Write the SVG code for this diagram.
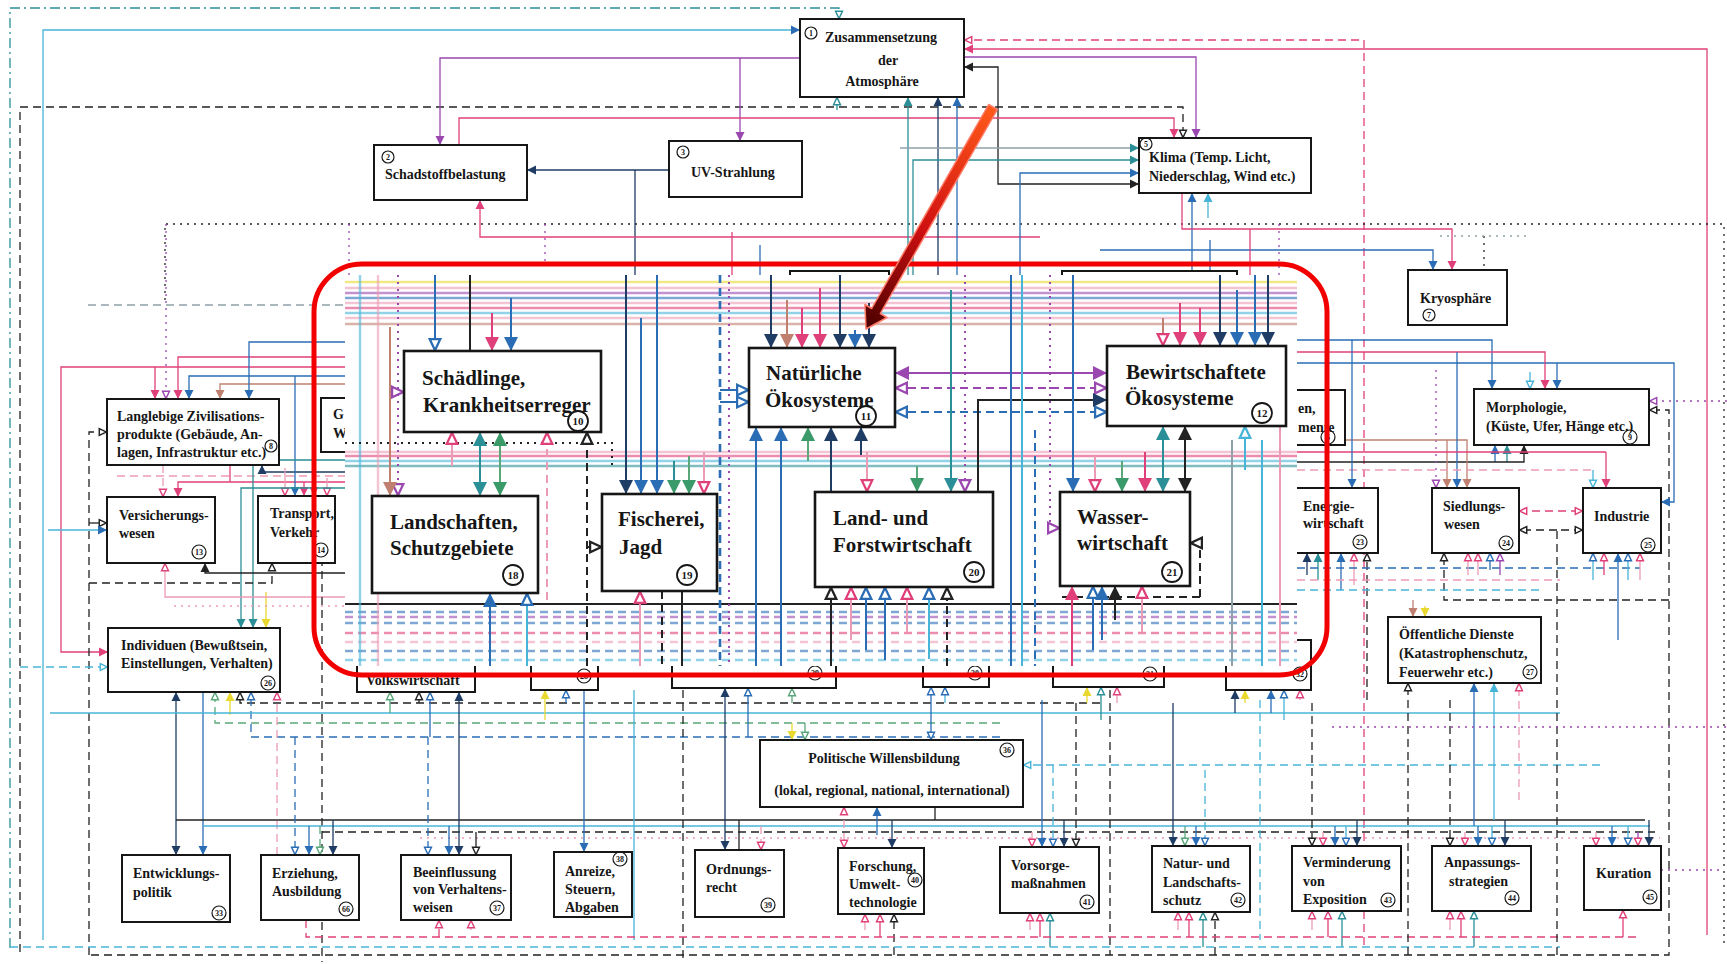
<svg xmlns="http://www.w3.org/2000/svg" width="1727" height="964" viewBox="0 0 1727 964">
<defs>
<style>
.box{fill:#fff;stroke:#161616;stroke-width:2}
.ibox{fill:#fff;stroke:#161616;stroke-width:2.6}
.t{font-family:"Liberation Serif","Times New Roman",serif;font-size:14px;font-weight:bold;fill:#161616}
.ti{font-family:"Liberation Serif","Times New Roman",serif;font-size:21px;font-weight:bold;fill:#161616}
.mid{text-anchor:middle}
.cn circle{fill:none;stroke:#161616;stroke-width:1.2}
.cn text{font-family:"Liberation Serif",serif;font-size:8px;font-weight:bold;text-anchor:middle;fill:#161616}
.ci circle{stroke-width:1.8}
.ci text{font-size:11px}
.l{fill:none;stroke-width:1.3}
.w{stroke-width:2}
.h{fill:none;stroke-width:2.4;opacity:.6}
.k{stroke:#222}
.n{stroke:#1e3c64}
.b{stroke:#2a6db5}
.tl{stroke:#2a8f96}
.g{stroke:#5aa87a}
.p{stroke:#e0407a}
.lp{stroke:#eb9cb4}
.m{stroke:#9a48b0}
.cy{stroke:#48b4d8}
.y{stroke:#e8d830}
.br{stroke:#c08070}
.gr{stroke:#8fa0a8}
.d{stroke-dasharray:8 5}
.dt{stroke-dasharray:2 5}
.dd{stroke-dasharray:10 4 2 4}
</style>
<marker id="fk" viewBox="0 0 10 10" refX="10" refY="5" markerWidth="7" markerHeight="7" orient="auto-start-reverse"><path d="M0,0L10,5L0,10z" fill="#222"/></marker>
<marker id="fn" viewBox="0 0 10 10" refX="10" refY="5" markerWidth="7" markerHeight="7" orient="auto-start-reverse"><path d="M0,0L10,5L0,10z" fill="#1e3c64"/></marker>
<marker id="fb" viewBox="0 0 10 10" refX="10" refY="5" markerWidth="7" markerHeight="7" orient="auto-start-reverse"><path d="M0,0L10,5L0,10z" fill="#2a6db5"/></marker>
<marker id="ft" viewBox="0 0 10 10" refX="10" refY="5" markerWidth="7" markerHeight="7" orient="auto-start-reverse"><path d="M0,0L10,5L0,10z" fill="#2a8f96"/></marker>
<marker id="fg" viewBox="0 0 10 10" refX="10" refY="5" markerWidth="7" markerHeight="7" orient="auto-start-reverse"><path d="M0,0L10,5L0,10z" fill="#3a9a6a"/></marker>
<marker id="fp" viewBox="0 0 10 10" refX="10" refY="5" markerWidth="7" markerHeight="7" orient="auto-start-reverse"><path d="M0,0L10,5L0,10z" fill="#e0407a"/></marker>
<marker id="fm" viewBox="0 0 10 10" refX="10" refY="5" markerWidth="7" markerHeight="7" orient="auto-start-reverse"><path d="M0,0L10,5L0,10z" fill="#9a48b0"/></marker>
<marker id="fc" viewBox="0 0 10 10" refX="10" refY="5" markerWidth="7" markerHeight="7" orient="auto-start-reverse"><path d="M0,0L10,5L0,10z" fill="#48b4d8"/></marker>
<marker id="fy" viewBox="0 0 10 10" refX="10" refY="5" markerWidth="7" markerHeight="7" orient="auto-start-reverse"><path d="M0,0L10,5L0,10z" fill="#e8d830"/></marker>
<marker id="fr" viewBox="0 0 10 10" refX="10" refY="5" markerWidth="7" markerHeight="7" orient="auto-start-reverse"><path d="M0,0L10,5L0,10z" fill="#c08070"/></marker>
<marker id="ok" viewBox="0 0 10 10" refX="9.5" refY="5" markerWidth="7" markerHeight="7" orient="auto-start-reverse"><path d="M1,1.2L9,5L1,8.8z" fill="#fff" stroke="#222" stroke-width="1.6"/></marker>
<marker id="ob" viewBox="0 0 10 10" refX="9.5" refY="5" markerWidth="7" markerHeight="7" orient="auto-start-reverse"><path d="M1,1.2L9,5L1,8.8z" fill="#fff" stroke="#2a6db5" stroke-width="1.6"/></marker>
<marker id="op" viewBox="0 0 10 10" refX="9.5" refY="5" markerWidth="7" markerHeight="7" orient="auto-start-reverse"><path d="M1,1.2L9,5L1,8.8z" fill="#fff" stroke="#e0407a" stroke-width="1.6"/></marker>
<marker id="om" viewBox="0 0 10 10" refX="9.5" refY="5" markerWidth="7" markerHeight="7" orient="auto-start-reverse"><path d="M1,1.2L9,5L1,8.8z" fill="#fff" stroke="#9a48b0" stroke-width="1.6"/></marker>
<marker id="ot" viewBox="0 0 10 10" refX="9.5" refY="5" markerWidth="7" markerHeight="7" orient="auto-start-reverse"><path d="M1,1.2L9,5L1,8.8z" fill="#fff" stroke="#2a8f96" stroke-width="1.6"/></marker>
<marker id="og" viewBox="0 0 10 10" refX="9.5" refY="5" markerWidth="7" markerHeight="7" orient="auto-start-reverse"><path d="M1,1.2L9,5L1,8.8z" fill="#fff" stroke="#5aa87a" stroke-width="1.6"/></marker>
<marker id="oc" viewBox="0 0 10 10" refX="9.5" refY="5" markerWidth="7" markerHeight="7" orient="auto-start-reverse"><path d="M1,1.2L9,5L1,8.8z" fill="#fff" stroke="#48b4d8" stroke-width="1.6"/></marker>
<linearGradient id="ra" gradientUnits="userSpaceOnUse" x1="993" y1="107" x2="866" y2="328"><stop offset="0" stop-color="#ff5a1a"/><stop offset="0.55" stop-color="#d01010"/><stop offset="1" stop-color="#4a0000"/></linearGradient>
</defs>
<rect width="1727" height="964" fill="#fff"/>

<g id="connectors">
<path class="l tl dd" d="M10,948V8H839V19" marker-end="url(#ot)"/>
<path class="l cy" d="M43,940V30H800" marker-end="url(#fb)"/>
<path class="l k d" d="M20,952V107H1183V138" marker-end="url(#ok)"/>
<path class="l tl" d="M837,110V97" marker-end="url(#ot)"/>
<path class="l m" d="M800,58H440V145" marker-end="url(#fm)"/>
<path class="l m" d="M740,58V141" marker-end="url(#fm)"/>
<path class="l m" d="M964,57H1196V138" marker-end="url(#fm)"/>
<path class="l p d" d="M1364,945V40H964" marker-end="url(#op)"/>
<path class="l p" d="M1707,935V49H964" marker-end="url(#fp)"/>
<path class="l k" d="M964,67H998V184H1139" marker-start="url(#fk)" marker-end="url(#fk)"/>
<path class="l n" d="M669,170H527" marker-end="url(#fn)"/>
<path class="l n" d="M635,170V275"/>
<path class="l p" d="M459,145V118H1174V138" marker-end="url(#fp)"/>
<path class="l p" d="M1040,237H480V200" marker-end="url(#fp)"/>
<path class="l k dt" d="M165,300V224H1724V945"/>
<path class="l m dt" d="M349,224V275"/>
<path class="l m dt" d="M545,224V265"/>
<path class="l gr d" d="M88,305H345"/>
<path class="l tl" d="M908,275V97" marker-end="url(#ft)"/>
<path class="l n" d="M938,275V97" marker-end="url(#fn)"/>
<path class="l b" d="M957,275V97" marker-end="url(#fb)"/>
<path class="l gr" d="M900,148H1139" marker-end="url(#ft)"/>
<path class="l tl" d="M913,275V160H1139" marker-end="url(#ft)"/>
<path class="l b" d="M1020,275V173H1139" marker-end="url(#fb)"/>
<path class="l b" d="M1192,275V193" marker-end="url(#fb)"/>
<path class="l cy" d="M1208,218V193" marker-end="url(#fc)"/>
<path class="l p" d="M1182,193V229H1452V270" marker-end="url(#fp)"/>
<path class="l b" d="M1100,250H1433V270" marker-end="url(#fb)"/>
<path class="l k dt" d="M1484,236V270"/>
<path class="l gr dt" d="M1440,236H1530"/>
<path class="l m dt" d="M1279,224V275"/>
<path class="l p" d="M732,232V275"/>
<path class="l b" d="M760,245V275"/>
<path class="l b" d="M1210,240V275"/>
<path class="l p" d="M1250,229V275"/>

<path class="l p" d="M345,367H61V652H108" marker-end="url(#fp)"/>
<path class="l p" d="M155,367V399" marker-end="url(#fp)"/>
<path class="l m dt" d="M166,224V399" marker-end="url(#om)"/>
<path class="l p" d="M345,357H178V399" marker-end="url(#fp)"/>
<path class="l b" d="M345,376H189V399" marker-end="url(#fb)"/>
<path class="l br" d="M345,384H220V399" marker-end="url(#fr)"/>
<path class="l b" d="M345,342H249V399" marker-end="url(#fb)"/>
<path class="l k d" d="M89,955V432H107" marker-end="url(#ok)"/>
<path class="l k" d="M89,523H107" marker-end="url(#ok)"/>
<path class="l cy" d="M48,530H107" marker-end="url(#fb)"/>
<path class="l lp d" d="M163,465V497" marker-end="url(#op)"/>
<path class="l lp d" d="M117,476H345"/>
<path class="l p" d="M345,482H178V497" marker-end="url(#fp)"/>
<path class="l p" d="M230,465V482"/>
<path class="l n" d="M262,465V472H345" marker-start="url(#fn)"/>
<path class="l lp" d="M285,468V496" marker-end="url(#op)"/>
<path class="l b" d="M295,376V496" marker-end="url(#fb)"/>
<path class="l p" d="M304,482V496" marker-end="url(#fp)"/>
<path class="l p" d="M314,470V496" marker-end="url(#fp)"/>
<path class="l lp" d="M327,478V496" marker-end="url(#op)"/>
<path class="l tl" d="M345,488H241V628" marker-end="url(#ft)"/>
<path class="l tl" d="M345,460H253V628" marker-end="url(#ft)"/>
<path class="l y" d="M266,592V628" marker-end="url(#fy)"/>
<path class="l lp" d="M345,597H165V563" marker-end="url(#op)"/>
<path class="l k" d="M345,573H205V563" marker-end="url(#fk)"/>
<path class="l k d" d="M89,583H272V563" marker-end="url(#ok)"/>
<path class="l lp dt" d="M174,606H345"/>
<path class="l k d" d="M322,545V962"/>

<path class="l cy d" d="M20,667H108" marker-end="url(#oc)"/>
<path class="l n" d="M176,692V855" marker-start="url(#fn)" marker-end="url(#fn)"/>
<path class="l b" d="M203,692V855" marker-end="url(#fb)"/>
<path class="l g d" d="M1000,723H215V692" marker-end="url(#og)"/>
<path class="l y" d="M230,715V692" marker-end="url(#fy)"/>
<path class="l k d" d="M1100,703H240V692" marker-end="url(#ok)"/>
<path class="l b d" d="M1000,737H251V692" marker-end="url(#ob)"/>
<path class="l lp d" d="M277,855V692" marker-end="url(#op)"/>
<path class="l cy" d="M50,713H1560"/>
<path class="l k" d="M176,820H1645"/>
<path class="l cy" d="M203,826H1650"/>
<path class="l k d" d="M322,832H1655"/>
<path class="l lp dt" d="M420,838H1660"/>

<path class="l b d" d="M295,737V855" marker-end="url(#ob)"/>
<path class="l b" d="M309,826V855" marker-end="url(#fb)"/>
<path class="l g d" d="M320,826V855" marker-end="url(#og)"/>
<path class="l n" d="M333,820V855" marker-end="url(#fn)"/>
<path class="l b d" d="M428,737V855" marker-end="url(#ob)"/>
<path class="l b" d="M449,826V855" marker-end="url(#fb)"/>
<path class="l n" d="M459,692V855" marker-start="url(#fn)" marker-end="url(#fn)"/>
<path class="l k" d="M476,832V855" marker-end="url(#ok)"/>
<path class="l b" d="M584,690V852" marker-end="url(#fb)"/>
<path class="l g" d="M390,713V692" marker-end="url(#og)"/>
<path class="l k" d="M419,703V692" marker-end="url(#ok)"/>
<path class="l b" d="M430,737V692" marker-end="url(#ob)"/>
<path class="l b" d="M566,703V690" marker-end="url(#ob)"/>
<path class="l y" d="M545,720V690" marker-end="url(#fy)"/>

<path class="l n" d="M725,688V850" marker-start="url(#fn)" marker-end="url(#fn)"/>
<path class="l k" d="M739,820V850"/>
<path class="l lp d" d="M761,826V850" marker-end="url(#op)"/>
<path class="l b" d="M748,737V688" marker-end="url(#ob)"/>
<path class="l g" d="M792,703V688" marker-end="url(#og)"/>
<path class="l k d" d="M683,690V962"/>
<path class="l cy" d="M634,690V940"/>

<path class="l lp d" d="M844,807V848" marker-start="url(#op)" marker-end="url(#op)"/>
<path class="l b" d="M877,835V807" marker-end="url(#fb)"/>
<path class="l n" d="M892,820V848" marker-end="url(#fn)"/>
<path class="l k" d="M935,807V820"/>
<path class="l y" d="M792,723V740" marker-end="url(#fy)"/>
<path class="l g" d="M805,723V740" marker-end="url(#og)"/>
<path class="l b" d="M931,687V740" marker-start="url(#ob)" marker-end="url(#ob)"/>
<path class="l cy d" d="M1600,765H1023" marker-end="url(#oc)"/>

<path class="l lp d" d="M1032,832V847" marker-end="url(#op)"/>
<path class="l b" d="M1042,700V847" marker-end="url(#fb)"/>
<path class="l cy d" d="M1053,765V847" marker-end="url(#ob)"/>
<path class="l n" d="M1064,820V847" marker-end="url(#fn)"/>
<path class="l k d" d="M1076,703V847" marker-end="url(#ok)"/>
<path class="l k d" d="M1110,690V955"/>
<path class="l cy d" d="M1260,700V940"/>

<path class="l n" d="M1173,703V846" marker-end="url(#fn)"/>
<path class="l g" d="M1185,826V846" marker-end="url(#og)"/>
<path class="l b" d="M1196,826V846" marker-end="url(#fb)"/>
<path class="l cy d" d="M1205,770V846" marker-end="url(#ob)"/>

<path class="l k d" d="M1312,703V846" marker-end="url(#ok)"/>
<path class="l lp" d="M1323,832V846" marker-end="url(#op)"/>
<path class="l b" d="M1335,826V846" marker-end="url(#fb)"/>
<path class="l cy" d="M1346,826V846" marker-end="url(#ob)"/>
<path class="l n" d="M1357,820V846" marker-end="url(#fn)"/>

<path class="l k d" d="M1450,700V846" marker-end="url(#ok)"/>
<path class="l lp" d="M1465,832V846" marker-end="url(#op)"/>
<path class="l b" d="M1478,826V846" marker-end="url(#fb)"/>
<path class="l cy" d="M1492,826V846" marker-end="url(#ob)"/>
<path class="l n" d="M1505,820V846" marker-end="url(#fn)"/>

<path class="l lp d" d="M1596,832V846" marker-end="url(#op)"/>
<path class="l b" d="M1612,826V846" marker-end="url(#fb)"/>
<path class="l cy" d="M1628,826V846" marker-end="url(#ob)"/>
<path class="l m" d="M1638,832V846" marker-end="url(#op)"/>
<path class="l n" d="M1649,820V846" marker-end="url(#fn)"/>

<path class="l p d" d="M439,937V920" marker-end="url(#op)"/>
<path class="l lp" d="M471,930V920" marker-end="url(#op)"/>
<path class="l lp" d="M865,930V914" marker-end="url(#op)"/>
<path class="l p" d="M880,937V914" marker-end="url(#op)"/>
<path class="l k d" d="M894,955V914" marker-end="url(#ok)"/>
<path class="l lp" d="M1030,930V913" marker-end="url(#op)"/>
<path class="l p" d="M1040,937V913" marker-end="url(#op)"/>
<path class="l tl" d="M1050,947V913" marker-end="url(#ot)"/>
<path class="l lp" d="M1178,930V912" marker-end="url(#op)"/>
<path class="l p" d="M1189,937V912" marker-end="url(#op)"/>
<path class="l tl" d="M1203,947V912" marker-end="url(#ot)"/>
<path class="l k d" d="M1215,955V912" marker-end="url(#ok)"/>
<path class="l lp" d="M1312,930V911" marker-end="url(#op)"/>
<path class="l p" d="M1328,937V911" marker-end="url(#op)"/>
<path class="l tl" d="M1342,947V911" marker-end="url(#ot)"/>
<path class="l lp" d="M1450,930V911" marker-end="url(#op)"/>
<path class="l p" d="M1461,937V911" marker-end="url(#op)"/>
<path class="l tl" d="M1474,947V911" marker-end="url(#ot)"/>
<path class="l p" d="M1623,937V910" marker-end="url(#op)"/>

<path class="l p d" d="M306,920V937H1640"/>
<path class="l cy d" d="M10,947H1560"/>
<path class="l k d" d="M91,955H1669V410H1649" marker-end="url(#ok)"/>

<path class="l k d" d="M1669,600H1444V553" marker-end="url(#ok)"/>
<path class="l k d" d="M1557,955V530H1583" marker-end="url(#ok)"/>
<path class="l k d" d="M1557,530H1519" marker-end="url(#ok)"/>
<path class="l p d" d="M1519,511H1583" marker-start="url(#op)" marker-end="url(#op)"/>
<path class="l b" d="M1297,363H1674V502H1661" marker-end="url(#fb)"/>
<path class="l b" d="M1297,340H1492V389" marker-end="url(#fb)"/>
<path class="l cy" d="M1530,372V389" marker-end="url(#oc)"/>
<path class="l p" d="M1297,352H1545V389" marker-end="url(#fp)"/>
<path class="l b" d="M1557,363V389" marker-end="url(#fb)"/>
<path class="l m dt" d="M1727,401H1649" marker-end="url(#om)"/>
<path class="l b" d="M1495,462V445" marker-end="url(#fb)"/>
<path class="l tl" d="M1507,462V445" marker-end="url(#ft)"/>
<path class="l k" d="M1297,462H1524V445" marker-end="url(#fk)"/>
<path class="l m dt" d="M1436,370V488" marker-end="url(#om)"/>
<path class="l br" d="M1297,440H1467V488" marker-end="url(#fr)"/>
<path class="l br" d="M1447,440V488" marker-end="url(#fr)"/>
<path class="l b" d="M1457,352V488" marker-end="url(#fb)"/>
<path class="l lp d" d="M1297,470H1593"/>
<path class="l p" d="M1297,452H1606"/>
<path class="l cy" d="M1593,470V488" marker-end="url(#oc)"/>
<path class="l p" d="M1606,452V488" marker-end="url(#fp)"/>
<path class="l b" d="M1352,340V488" marker-end="url(#fb)"/>
<path class="l n" d="M1307,575V553" marker-end="url(#fn)"/>
<path class="l tl" d="M1318,580V553" marker-end="url(#ft)"/>
<path class="l b" d="M1341,590V553" marker-end="url(#fb)"/>
<path class="l lp" d="M1354,585V553" marker-end="url(#op)"/>
<path class="l k d" d="M1367,700V553" marker-end="url(#ok)"/>
<path class="l b d" d="M1297,568H1640"/>
<path class="l lp d" d="M1297,580H1560"/>
<path class="l cy d" d="M1297,590H1540"/>
<path class="l lp" d="M1468,575V553" marker-end="url(#op)"/>
<path class="l lp" d="M1478,575V553" marker-end="url(#op)"/>
<path class="l b" d="M1490,570V553" marker-end="url(#ob)"/>
<path class="l m" d="M1500,575V553" marker-end="url(#om)"/>
<path class="l cy" d="M1593,580V553" marker-end="url(#ob)"/>
<path class="l p" d="M1604,575V553" marker-end="url(#op)"/>
<path class="l b" d="M1618,640V553" marker-end="url(#fb)"/>
<path class="l cy" d="M1628,580V553" marker-end="url(#ob)"/>
<path class="l lp" d="M1640,580V553" marker-end="url(#op)"/>
<path class="l br" d="M1413,600V617" marker-end="url(#fr)"/>
<path class="l y" d="M1425,606V617" marker-end="url(#fy)"/>
<path class="l k d" d="M1408,955V683" marker-end="url(#ok)"/>
<path class="l b" d="M1474,826V683" marker-end="url(#fb)"/>
<path class="l cy" d="M1494,820V683" marker-end="url(#fc)"/>
<path class="l lp d" d="M1519,800V683" marker-end="url(#op)"/>
<path class="l m dt" d="M1661,870H1723"/>
<path class="l m dt" d="M1332,727H1727"/>
<path class="l n" d="M1235,713V690" marker-end="url(#fn)"/>
<path class="l y" d="M1245,703V690" marker-end="url(#fy)"/>
<path class="l b" d="M1271,713V690" marker-end="url(#fb)"/>
<path class="l cy" d="M1284,720V690" marker-end="url(#ob)"/>
<path class="l lp" d="M1300,700V690" marker-end="url(#op)"/>
<path class="l y" d="M1087,703V687" marker-end="url(#fy)"/>
<path class="l tl" d="M1101,720V687" marker-end="url(#ot)"/>
<path class="l lp" d="M1117,703V687" marker-end="url(#op)"/>
<path class="l cy" d="M945,703V687" marker-end="url(#ob)"/>
</g>

<g id="n1"><rect class="box" x="800" y="19" width="164" height="78"/><g class="cn"><circle cx="811" cy="33" r="6"/><text x="811" y="36">1</text></g><text class="t" x="825" y="42">Zusammensetzung</text><text class="t mid" x="888" y="65">der</text><text class="t mid" x="882" y="86">Atmosphäre</text></g>
<g id="n2"><rect class="box" x="374" y="145" width="153" height="55"/><g class="cn"><circle cx="388" cy="157" r="6"/><text x="388" y="160">2</text></g><text class="t" x="385" y="179">Schadstoffbelastung</text></g>
<g id="n3"><rect class="box" x="669" y="141" width="133" height="56"/><g class="cn"><circle cx="683" cy="152" r="6"/><text x="683" y="155">3</text></g><text class="t" x="691" y="177">UV-Strahlung</text></g>
<g id="n5"><rect class="box" x="1139" y="138" width="172" height="55"/><g class="cn"><circle cx="1146" cy="144" r="6"/><text x="1146" y="147">5</text></g><text class="t" x="1149" y="162">Klima (Temp. Licht,</text><text class="t" x="1149" y="181">Niederschlag, Wind etc.)</text></g>
<g id="n7"><rect class="box" x="1408" y="270" width="99" height="55"/><text class="t" x="1420" y="303">Kryosphäre</text><g class="cn"><circle cx="1429" cy="315" r="6"/><text x="1429" y="318">7</text></g></g>
<g id="n8"><rect class="box" x="107" y="399" width="172" height="66"/><text class="t" x="117" y="421">Langlebige Zivilisations-</text><text class="t" x="117" y="439">produkte (Gebäude, An-</text><text class="t" x="117" y="457">lagen, Infrastruktur etc.)</text><g class="cn"><circle cx="271" cy="446" r="6"/><text x="271" y="449">8</text></g></g>
<g id="n22"><rect class="box" x="321" y="398" width="60" height="54"/><text class="t" x="333" y="419">G</text><text class="t" x="333" y="438">W</text></g>
<g id="n13"><rect class="box" x="107" y="497" width="108" height="66"/><text class="t" x="119" y="520">Versicherungs-</text><text class="t" x="119" y="538">wesen</text><g class="cn"><circle cx="199" cy="552" r="7"/><text x="199" y="555">13</text></g></g>
<g id="n14"><rect class="box" x="258" y="496" width="77" height="67"/><text class="t" x="270" y="518">Transport,</text><text class="t" x="270" y="537">Verkehr</text><g class="cn"><circle cx="321" cy="550" r="7"/><text x="321" y="553">14</text></g></g>
<g id="n26"><rect class="box" x="108" y="628" width="172" height="64"/><text class="t" x="121" y="650">Individuen (Bewußtsein,</text><text class="t" x="121" y="668">Einstellungen, Verhalten)</text><g class="cn"><circle cx="268" cy="683" r="7"/><text x="268" y="686">26</text></g></g>
<g id="n27"><rect class="box" x="357" y="640" width="118" height="52"/><text class="t" x="366" y="685">Volkswirtschaft</text></g>
<g id="n28"><rect class="box" x="531" y="640" width="67" height="50"/><g class="cn"><circle cx="584" cy="676" r="7"/><text x="584" y="679">28</text></g></g>
<g id="n29"><rect class="box" x="672" y="640" width="164" height="48"/><g class="cn"><circle cx="815" cy="673" r="7"/><text x="815" y="676">29</text></g></g>
<g id="n30"><rect class="box" x="923" y="640" width="66" height="47"/><g class="cn"><circle cx="975" cy="673" r="7"/><text x="975" y="676">30</text></g></g>
<g id="n31"><rect class="box" x="1053" y="640" width="111" height="47"/><g class="cn"><circle cx="1150" cy="674" r="7"/><text x="1150" y="677">31</text></g></g>
<g id="n32"><rect class="box" x="1226" y="640" width="85" height="50"/><g class="cn"><circle cx="1300" cy="674" r="7"/><text x="1300" y="677">32</text></g></g>
<g id="n33"><rect class="box" x="122" y="855" width="108" height="67"/><text class="t" x="133" y="878">Entwicklungs-</text><text class="t" x="133" y="897">politik</text><g class="cn"><circle cx="219" cy="913" r="7"/><text x="219" y="916">33</text></g></g>
<g id="n66"><rect class="box" x="261" y="855" width="98" height="65"/><text class="t" x="272" y="878">Erziehung,</text><text class="t" x="272" y="896">Ausbildung</text><g class="cn"><circle cx="346" cy="909" r="7"/><text x="346" y="912">66</text></g></g>
<g id="n37"><rect class="box" x="401" y="855" width="110" height="65"/><text class="t" x="413" y="877">Beeinflussung</text><text class="t" x="413" y="894">von Verhaltens-</text><text class="t" x="413" y="912">weisen</text><g class="cn"><circle cx="497" cy="908" r="7"/><text x="497" y="911">37</text></g></g>
<g id="n38"><rect class="box" x="554" y="852" width="78" height="65"/><text class="t" x="565" y="876">Anreize,</text><text class="t" x="565" y="894">Steuern,</text><text class="t" x="565" y="912">Abgaben</text><g class="cn"><circle cx="620" cy="859" r="7"/><text x="620" y="862">38</text></g></g>
<g id="n39"><rect class="box" x="695" y="850" width="89" height="67"/><text class="t" x="706" y="874">Ordnungs-</text><text class="t" x="706" y="892">recht</text><g class="cn"><circle cx="768" cy="905" r="7"/><text x="768" y="908">39</text></g></g>
<g id="n40"><rect class="box" x="838" y="848" width="86" height="66"/><text class="t" x="849" y="871">Forschung,</text><text class="t" x="849" y="889">Umwelt-</text><text class="t" x="849" y="907">technologie</text><g class="cn"><circle cx="915" cy="880" r="7"/><text x="915" y="883">40</text></g></g>
<g id="n41"><rect class="box" x="1000" y="847" width="99" height="66"/><text class="t" x="1011" y="870">Vorsorge-</text><text class="t" x="1011" y="888">maßnahmen</text><g class="cn"><circle cx="1087" cy="902" r="7"/><text x="1087" y="905">41</text></g></g>
<g id="n42"><rect class="box" x="1152" y="846" width="98" height="66"/><text class="t" x="1163" y="868">Natur- und</text><text class="t" x="1163" y="887">Landschafts-</text><text class="t" x="1163" y="905">schutz</text><g class="cn"><circle cx="1238" cy="900" r="7"/><text x="1238" y="903">42</text></g></g>
<g id="n43"><rect class="box" x="1292" y="846" width="109" height="65"/><text class="t" x="1303" y="867">Verminderung</text><text class="t" x="1303" y="886">von</text><text class="t" x="1303" y="904">Exposition</text><g class="cn"><circle cx="1388" cy="900" r="7"/><text x="1388" y="903">43</text></g></g>
<g id="n44"><rect class="box" x="1432" y="846" width="99" height="65"/><text class="t" x="1444" y="867">Anpassungs-</text><text class="t" x="1449" y="886">strategien</text><g class="cn"><circle cx="1512" cy="898" r="7"/><text x="1512" y="901">44</text></g></g>
<g id="n45"><rect class="box" x="1584" y="846" width="77" height="64"/><text class="t" x="1596" y="878">Kuration</text><g class="cn"><circle cx="1650" cy="897" r="7"/><text x="1650" y="900">45</text></g></g>
<g id="n36"><rect class="box" x="760" y="740" width="263" height="67"/><text class="t mid" x="884" y="763">Politische Willensbildung</text><text class="t mid" x="892" y="795">(lokal, regional, national, international)</text><g class="cn"><circle cx="1007" cy="750" r="7"/><text x="1007" y="753">36</text></g></g>
<g id="n27b"><rect class="box" x="1388" y="617" width="153" height="66"/><text class="t" x="1399" y="639">Öffentliche Dienste</text><text class="t" x="1399" y="658">(Katastrophenschutz,</text><text class="t" x="1399" y="677">Feuerwehr etc.)</text><g class="cn"><circle cx="1530" cy="672" r="7"/><text x="1530" y="675">27</text></g></g>
<g id="n9"><rect class="box" x="1474" y="389" width="175" height="56"/><text class="t" x="1486" y="412">Morphologie,</text><text class="t" x="1486" y="431">(Küste, Ufer, Hänge etc.)</text><g class="cn"><circle cx="1630" cy="437" r="7"/><text x="1630" y="440">9</text></g></g>
<g id="n24"><rect class="box" x="1432" y="488" width="87" height="65"/><text class="t" x="1443" y="511">Siedlungs-</text><text class="t" x="1444" y="529">wesen</text><g class="cn"><circle cx="1506" cy="543" r="7"/><text x="1506" y="546">24</text></g></g>
<g id="n25"><rect class="box" x="1583" y="488" width="78" height="65"/><text class="t" x="1594" y="521">Industrie</text><g class="cn"><circle cx="1648" cy="545" r="7"/><text x="1648" y="548">25</text></g></g>
<g id="n23"><rect class="box" x="1280" y="488" width="98" height="65"/><text class="t" x="1303" y="511">Energie-</text><text class="t" x="1303" y="528">wirtschaft</text><g class="cn"><circle cx="1360" cy="542" r="7"/><text x="1360" y="545">23</text></g></g>
<g id="n6"><rect class="box" x="1270" y="390" width="75" height="55"/><text class="t" x="1298" y="413">en,</text><text class="t" x="1298" y="432">mente</text><g class="cn"><circle cx="1328" cy="437" r="7"/><text x="1328" y="440">6</text></g></g>
<g id="n11top"><rect class="box" x="790" y="271" width="99" height="30"/></g>
<g id="n12top"><rect class="box" x="1062" y="271" width="175" height="30"/></g>

<g id="inset">
<rect x="345" y="275" width="952" height="391" fill="#fff"/>
<g id="inset-connectors">
<path class="h y" d="M345,282H1297"/>
<path class="h lp" d="M345,288H1297"/>
<path class="h m" d="M345,293H1297"/>
<path class="h b" d="M345,298H1297"/>
<path class="h lp" d="M345,303H1297"/>
<path class="h p" d="M345,308H1297"/>
<path class="h cy" d="M345,313H1297"/>
<path class="h lp" d="M345,318H1297"/>
<path class="h br" d="M345,324H1297"/>
<path class="h lp" d="M345,452H1297"/>
<path class="h p" d="M345,456H1297"/>
<path class="h cy" d="M345,461H1297"/>
<path class="h tl" d="M345,466H1297"/>
<path class="l w k" d="M345,604H1297"/>
<path class="h b d" d="M345,612H1297"/>
<path class="h m d" d="M345,617H1297"/>
<path class="h b d" d="M345,623H1297"/>
<path class="h p d" d="M345,633H1297"/>
<path class="h lp d" d="M345,642H1297"/>
<path class="h b d" d="M345,651H1297"/>
<path class="h cy d" d="M345,660H1297"/>
<path class="h cy" d="M360,275V666"/>
<path class="h lp" d="M378,275V666"/>
<path class="l w k dt" d="M345,443H612V470"/>

<path class="l w b" d="M435,275V351" marker-end="url(#ob)"/>
<path class="l w k" d="M470,275V351"/>
<path class="l w p" d="M492,313V351" marker-end="url(#fp)"/>
<path class="l w b" d="M511,298V351" marker-end="url(#fb)"/>
<path class="l w m dt" d="M398,275V496" marker-end="url(#om)"/>
<path class="l w m" d="M398,392H404" marker-end="url(#om)"/>
<path class="l w br" d="M390,327V496" marker-end="url(#fr)"/>
<path class="l w lp" d="M452,466V432" marker-end="url(#op)"/>
<path class="l w tl" d="M480,496V432" marker-start="url(#ft)" marker-end="url(#ft)"/>
<path class="l w g" d="M500,496V432" marker-start="url(#fg)" marker-end="url(#fg)"/>
<path class="l w lp d" d="M547,600V432" marker-end="url(#op)"/>
<path class="l w k d" d="M587,666V432" marker-end="url(#ok)"/>
<path class="l w b" d="M490,666V593" marker-end="url(#fb)"/>
<path class="l w cy" d="M527,666V593" marker-end="url(#ob)"/>

<path class="l w n" d="M626,275V494" marker-end="url(#fn)"/>
<path class="l w b" d="M641,318V494" marker-end="url(#fb)"/>
<path class="l w b" d="M657,275V494" marker-end="url(#fb)"/>
<path class="l w tl" d="M674,461V494" marker-end="url(#fg)"/>
<path class="l w g" d="M689,456V494" marker-end="url(#fg)"/>
<path class="l w lp" d="M704,452V494" marker-end="url(#op)"/>
<path class="l w k" d="M587,547H602" marker-end="url(#ok)"/>
<path class="l w lp" d="M640,666V591" marker-end="url(#op)"/>
<path class="l w k d" d="M662,591V666"/>
<path class="l w k" d="M682,591V666"/>
<path class="l b d" style="stroke-width:2.6" d="M720,275V666"/>
<path class="l w m dt" d="M729,275V666"/>

<path class="l w n" d="M771,275V348" marker-end="url(#fn)"/>
<path class="l w br" d="M787,300V348" marker-end="url(#fr)"/>
<path class="l w p" d="M802,308V348" marker-end="url(#fp)"/>
<path class="l w p" d="M820,288V348" marker-end="url(#fp)"/>
<path class="l w n" d="M840,275V348" marker-end="url(#fn)"/>
<path class="l w b" d="M855,330V348" marker-end="url(#fb)"/>
<path class="l w n" d="M869,303V348" marker-end="url(#fn)"/>
<path class="l w b" d="M720,390H749" marker-end="url(#ob)"/>
<path class="l w b" d="M720,402H749" marker-end="url(#ob)"/>
<path class="l w m" d="M895,373H1107" marker-start="url(#fm)" marker-end="url(#fm)"/>
<path class="l w m d" d="M895,388H1107" marker-start="url(#om)" marker-end="url(#om)"/>
<path class="l w b d" d="M895,412H1107" marker-start="url(#ob)" marker-end="url(#ob)"/>
<path class="l w b" d="M756,666V427" marker-end="url(#fb)"/>
<path class="l w b" d="M781,666V427" marker-end="url(#fb)"/>
<path class="l w g" d="M808,461V427" marker-end="url(#fg)"/>
<path class="l w n" d="M831,492V427" marker-end="url(#fn)"/>
<path class="l w n" d="M861,455V427" marker-end="url(#fn)"/>

<path class="l w lp" d="M867,452V492" marker-end="url(#op)"/>
<path class="l w g" d="M917,466V492" marker-end="url(#fg)"/>
<path class="l w tl" d="M951,290V492" marker-end="url(#ft)"/>
<path class="l w m dt" d="M965,275V492" marker-end="url(#om)"/>
<path class="l w k" d="M978,492V400H1107" marker-end="url(#fn)"/>
<path class="l w k" d="M831,666V587" marker-end="url(#ok)"/>
<path class="l w lp" d="M851,640V587" marker-end="url(#op)"/>
<path class="l w b" d="M866,650V587" marker-end="url(#ob)"/>
<path class="l w b" d="M885,660V587" marker-end="url(#ob)"/>
<path class="l w lp" d="M907,632V587" marker-end="url(#op)"/>
<path class="l w cy" d="M929,659V587" marker-end="url(#ob)"/>
<path class="l w k d" d="M947,666V587" marker-end="url(#ok)"/>
<path class="l w b" d="M1011,275V666"/>
<path class="l w cy" d="M1022,275V666"/>
<path class="l w m dt" d="M1050,275V528H1060" marker-end="url(#om)"/>
<path class="l w b d" d="M1035,430V666"/>

<path class="l w br" d="M1163,318V346" marker-end="url(#op)"/>
<path class="l w p" d="M1180,303V346" marker-end="url(#fp)"/>
<path class="l w p" d="M1200,308V346" marker-end="url(#fp)"/>
<path class="l w n" d="M1220,275V346" marker-end="url(#fn)"/>
<path class="l w b" d="M1237,290V346" marker-end="url(#fb)"/>
<path class="l w b" d="M1255,275V346" marker-end="url(#fb)"/>
<path class="l w n" d="M1268,275V346" marker-end="url(#fn)"/>
<path class="l w tl" d="M1163,492V426" marker-start="url(#ft)" marker-end="url(#ft)"/>
<path class="l w k" d="M1185,492V426" marker-start="url(#fk)" marker-end="url(#fk)"/>
<path class="l w cy" d="M1245,470V426" marker-end="url(#oc)"/>
<path class="l w b" d="M1073,275V492" marker-end="url(#fb)"/>
<path class="l w lp" d="M1095,456V492" marker-end="url(#op)"/>
<path class="l w g" d="M1122,461V492" marker-end="url(#fg)"/>
<path class="l w p" d="M1145,452V492" marker-end="url(#fp)"/>
<path class="l w k d" d="M1200,597V543H1190" marker-end="url(#ok)"/>
<path class="l w k d" d="M1200,597H1060"/>
<path class="l w p" d="M1072,666V586" marker-end="url(#fp)"/>
<path class="l w b" d="M1093,650V586" marker-end="url(#ob)"/>
<path class="l w b" d="M1102,640V586" marker-end="url(#fb)"/>
<path class="l w k" d="M1115,620V586" marker-end="url(#fk)"/>
<path class="l w lp" d="M1142,632V586" marker-end="url(#op)"/>
<path class="l w gr" d="M1232,440V666"/>
<path class="l w cy" d="M1262,440V666"/>
<path class="l w lp" d="M1280,400V666"/>
</g>
<g id="n10"><rect class="ibox" x="404" y="351" width="197" height="81"/><text class="ti" x="422" y="385">Schädlinge,</text><text class="ti" x="423" y="412">Krankheitserreger</text><g class="cn ci"><circle cx="578" cy="421" r="10"/><text x="578" y="425">10</text></g></g>
<g id="n18"><rect class="ibox" x="372" y="496" width="166" height="97"/><text class="ti" x="390" y="529">Landschaften,</text><text class="ti" x="390" y="555">Schutzgebiete</text><g class="cn ci"><circle cx="513" cy="575" r="10"/><text x="513" y="579">18</text></g></g>
<g id="n19"><rect class="ibox" x="602" y="494" width="115" height="97"/><text class="ti" x="618" y="526">Fischerei,</text><text class="ti" x="619" y="554">Jagd</text><g class="cn ci"><circle cx="687" cy="575" r="10"/><text x="687" y="579">19</text></g></g>
<g id="n11"><rect class="ibox" x="749" y="348" width="146" height="79"/><text class="ti" x="766" y="380">Natürliche</text><text class="ti" x="765" y="407">Ökosysteme</text><g class="cn ci"><circle cx="866" cy="416" r="10"/><text x="866" y="420">11</text></g></g>
<g id="n20"><rect class="ibox" x="815" y="492" width="178" height="95"/><text class="ti" x="833" y="525">Land- und</text><text class="ti" x="833" y="552">Forstwirtschaft</text><g class="cn ci"><circle cx="974" cy="572" r="10"/><text x="974" y="576">20</text></g></g>
<g id="n12"><rect class="ibox" x="1107" y="346" width="179" height="80"/><text class="ti" x="1126" y="379">Bewirtschaftete</text><text class="ti" x="1125" y="405">Ökosysteme</text><g class="cn ci"><circle cx="1262" cy="413" r="10"/><text x="1262" y="417">12</text></g></g>
<g id="n21"><rect class="ibox" x="1060" y="492" width="130" height="94"/><text class="ti" x="1077" y="524">Wasser-</text><text class="ti" x="1077" y="550">wirtschaft</text><g class="cn ci"><circle cx="1172" cy="572" r="10"/><text x="1172" y="576">21</text></g></g>
</g>

<g id="highlight">
<rect x="314" y="264" width="1013" height="411" rx="48" fill="none" stroke="#f20000" stroke-width="5"/>
<polygon points="997.3,109.5 880.3,313.5 887,317.5 866,329 864.9,304.5 871.7,308.5 988.7,104.5" fill="url(#ra)" stroke="#ff7a66" stroke-width="1.5" stroke-linejoin="round"/>
</g>
</svg>
